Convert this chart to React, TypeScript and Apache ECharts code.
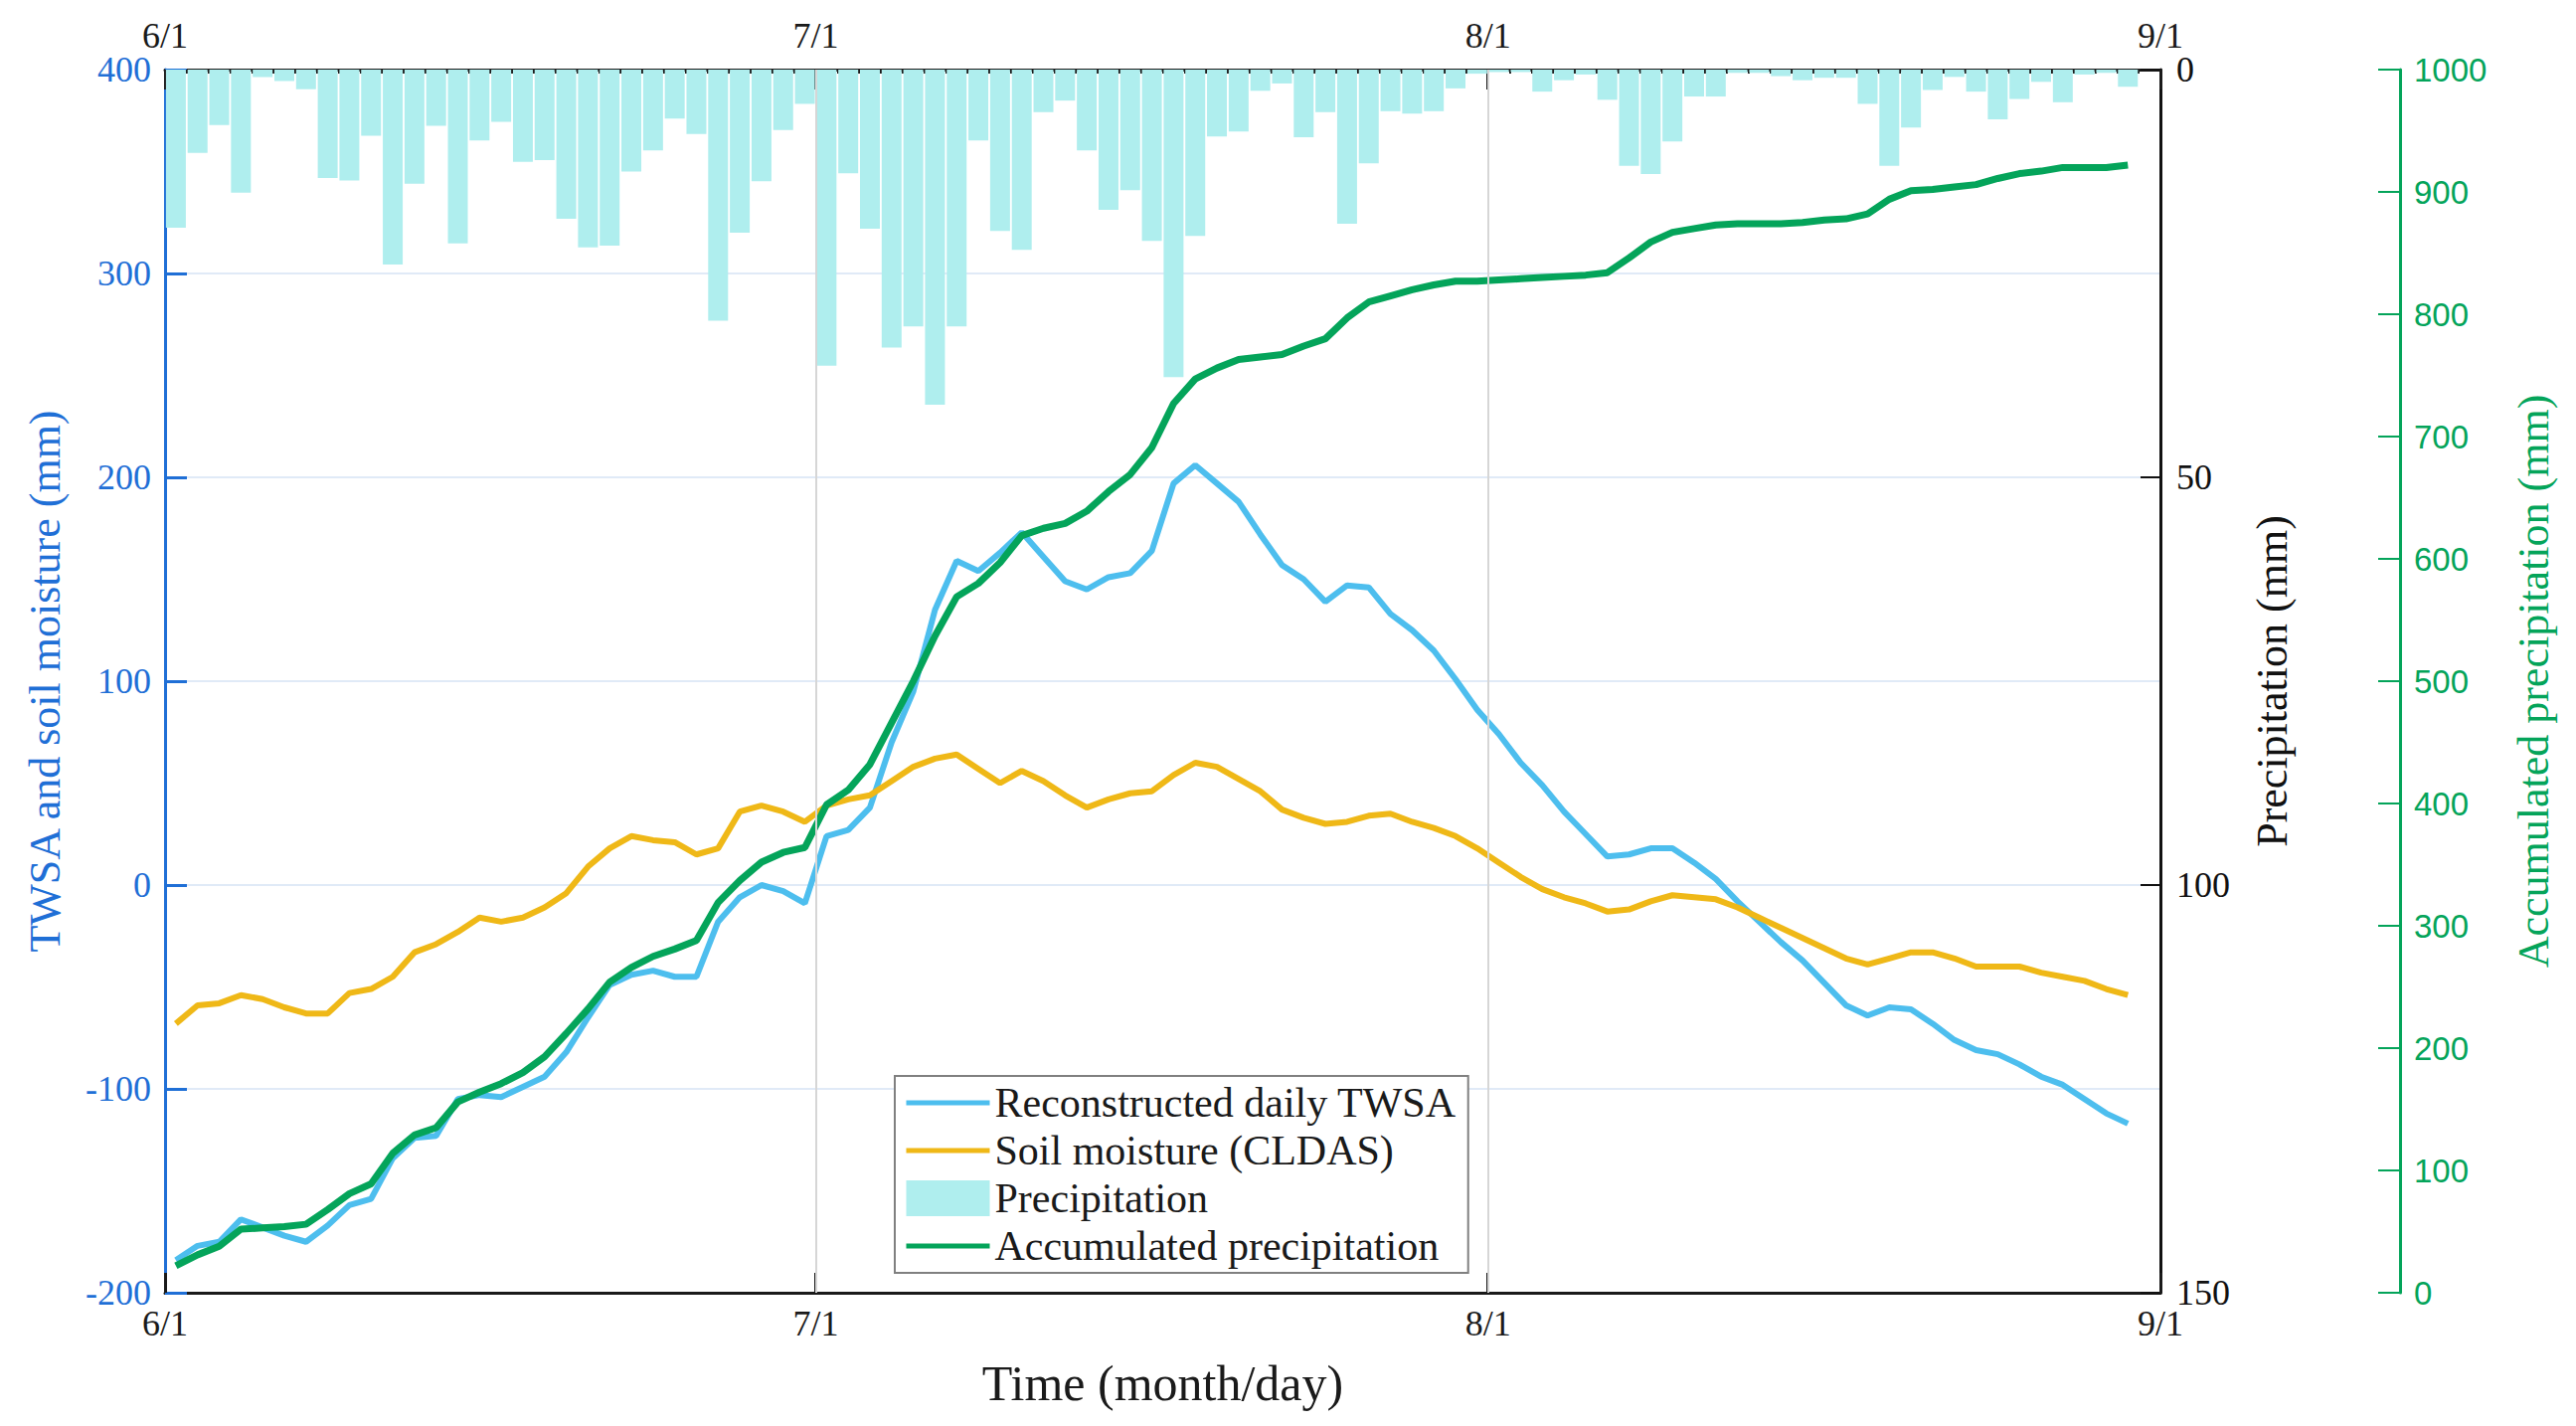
import React, { useEffect, useRef } from "react";
import * as echarts from "echarts";

// month boundaries, in days from 6/1
const monthTicks = [0, 30, 61, 92];
const monthLabels = ["6/1", "7/1", "8/1", "9/1"];

// daily precipitation (mm), 6/1 .. 8/31
const precipJun = [19.4, 10.2, 6.8, 15.1, 0.9, 1.4, 2.4, 13.3, 13.6, 8.1, 23.9, 14.0, 6.9, 21.3, 8.7, 6.4, 11.3, 11.1, 18.3, 21.8, 21.6, 12.5, 9.9, 6.0, 7.9, 30.8, 20.0, 13.7, 7.4, 4.2];
const precipJul = [36.3, 12.7, 19.5, 34.1, 31.5, 41.1, 31.5, 8.7, 19.8, 22.1, 5.2, 3.8, 9.9, 17.2, 14.8, 21.0, 37.7, 20.4, 8.2, 7.6, 2.6, 1.7, 8.3, 5.2, 18.9, 11.5, 5.1, 5.4, 5.1, 2.3, 0.5];
const precipAug = [0.3, 0.3, 2.7, 1.3, 0.6, 3.7, 11.8, 12.8, 8.8, 3.3, 3.3, 0.4, 0.4, 0.8, 1.3, 1.0, 1.0, 4.2, 11.8, 7.1, 2.5, 0.9, 2.7, 6.1, 3.6, 1.5, 4.0, 0.6, 0.4, 2.1, 0];

// reconstructed daily TWSA (mm), 6/1 .. 8/30
const twsaJun = [-184, -177, -175, -164, -168, -172, -175, -167, -157, -154, -134, -124, -123, -105, -103, -104, -99, -94, -82, -65, -49, -44, -42, -45, -45, -18, -6, 0, -3, -9];
const twsaJul = [24, 27, 38, 70, 95, 135, 159, 154, 163, 173, 161, 149, 145, 151, 153, 164, 197, 206, 197, 188, 172, 157, 150, 139, 147, 146, 133, 125, 115, 101, 86];
const twsaAug = [74, 60, 49, 36, 25, 14, 15, 18, 18, 11, 3, -8, -18, -28, -37, -48, -59, -64, -60, -61, -68, -76, -81, -83, -88, -94, -98, -105, -112, -117];

// soil moisture, CLDAS (mm)
const soilJun = [-68, -59, -58, -54, -56, -60, -63, -63, -53, -51, -45, -33, -29, -23, -16, -18, -16, -11, -4, 9, 18, 24, 22, 21, 15, 18, 36, 39, 36, 31];
const soilJul = [39, 42, 44, 51, 58, 62, 64, 57, 50, 56, 51, 44, 38, 42, 45, 46, 54, 60, 58, 52, 46, 37, 33, 30, 31, 34, 35, 31, 28, 24, 18];
const soilAug = [11, 4, -2, -6, -9, -13, -12, -8, -5, -6, -7, -11, -16, -21, -26, -31, -36, -39, -36, -33, -33, -36, -40, -40, -40, -43, -45, -47, -51, -54];

// accumulated precipitation (mm)
const accJun = [22, 31, 38, 52, 53, 54, 56, 68, 81, 89, 114, 129, 135, 156, 164, 171, 180, 193, 212, 232, 254, 266, 275, 281, 288, 319, 337, 352, 360, 364];
const accJul = [399, 411, 432, 466, 500, 537, 569, 580, 597, 619, 625, 629, 639, 655, 669, 691, 727, 747, 756, 763, 765, 767, 774, 780, 797, 810, 815, 820, 824, 827, 827];
const accAug = [828, 829, 830, 831, 832, 834, 846, 859, 867, 870, 873, 874, 874, 874, 875, 877, 878, 882, 894, 901, 902, 904, 906, 911, 915, 917, 920, 920, 920, 922];

const FONT = "Liberation Serif";
const BLUE = "#1f6fd6";
const GREEN = "#04a45a";
const INK = "#1a1a1a";
const TWSA_COLOR = "#4dbeee";
const SOIL_COLOR = "#efb817";

const TWSA_NAME = "Reconstructed daily TWSA";
const SOIL_NAME = "Soil moisture (CLDAS)";
const PRECIP_NAME = "Precipitation";
const ACC_NAME = "Accumulated precipitation";

// each day sits in the middle of its band
const toDaily = (vals: number[]) => vals.map((v, i) => [i + 0.5, v]);
const monthLabel = (v: number) => {
  const i = monthTicks.indexOf(v);
  return i >= 0 ? monthLabels[i] : "";
};

// legend entry for a line: no marker, just the stroke
const lineEntry = (name: string, color: string) => ({
  name,
  itemStyle: { opacity: 0 },
  lineStyle: { width: 5, color },
});

const App = () => {
  const chartRef = useRef<HTMLDivElement>(null);

  useEffect(() => {
    const chart = echarts.init(chartRef.current as HTMLDivElement, null, {
      renderer: "svg",
    });

    const precip = [...precipJun, ...precipJul, ...precipAug];
    const twsa = [...twsaJun, ...twsaJul, ...twsaAug];
    const soil = [...soilJun, ...soilJul, ...soilAug];
    const acc = [...accJun, ...accJul, ...accAug];

    const option = {
      animation: false,
      backgroundColor: "#fff",
      textStyle: { fontFamily: FONT },
      grid: { left: 166, right: 418, top: 70, bottom: 134 },
      legend: {
        orient: "vertical",
        left: 900,
        top: 1082,
        itemWidth: 84,
        itemHeight: 36,
        itemGap: 6,
        padding: [6, 12, 6, 9],
        borderColor: "#808080",
        borderWidth: 2,
        backgroundColor: "#fff",
        textStyle: { fontFamily: FONT, fontSize: 42, color: INK },
        data: [
          lineEntry(TWSA_NAME, TWSA_COLOR),
          lineEntry(SOIL_NAME, SOIL_COLOR),
          { name: PRECIP_NAME, icon: "rect" },
          lineEntry(ACC_NAME, GREEN),
        ],
      },
      xAxis: [
        {
          type: "value",
          min: 0,
          max: 92,
          position: "bottom",
          axisLine: { show: true, onZero: false, lineStyle: { color: INK, width: 3 } },
          axisTick: {
            show: true,
            inside: true,
            length: 20,
            customValues: monthTicks,
            lineStyle: { color: INK, width: 3 },
          },
          axisLabel: {
            customValues: monthTicks,
            formatter: monthLabel,
            fontFamily: FONT,
            fontSize: 36,
            color: INK,
            margin: 13,
          },
          splitLine: { show: false },
          name: "Time (month/day)",
          nameLocation: "middle",
          nameGap: 66,
          nameTextStyle: { fontFamily: FONT, fontSize: 50, color: INK },
        },
        {
          type: "value",
          min: 0,
          max: 92,
          interval: 1,
          position: "top",
          axisLine: { show: true, onZero: false, lineStyle: { color: INK, width: 3 } },
          axisTick: { show: true, inside: true, length: 4, lineStyle: { color: INK, width: 2 } },
          axisLabel: { show: false },
          splitLine: { show: false },
        },
        {
          type: "value",
          min: 0,
          max: 92,
          position: "top",
          axisLine: { show: false, onZero: false },
          axisTick: {
            show: true,
            inside: true,
            length: 20,
            customValues: monthTicks,
            lineStyle: { color: INK, width: 3 },
          },
          axisLabel: {
            customValues: monthTicks,
            formatter: monthLabel,
            fontFamily: FONT,
            fontSize: 36,
            color: INK,
            margin: 16,
          },
          splitLine: { show: false },
        },
      ],
      yAxis: [
        {
          type: "value",
          min: -200,
          max: 400,
          interval: 100,
          position: "left",
          axisLine: { show: true, onZero: false, lineStyle: { color: BLUE, width: 3 } },
          axisTick: { show: true, inside: true, length: 22, lineStyle: { color: BLUE, width: 3 } },
          axisLabel: { color: BLUE, fontFamily: FONT, fontSize: 36, margin: 14 },
          splitLine: { show: true, lineStyle: { color: "#e0eaf7", width: 2 } },
          name: "TWSA and soil moisture (mm)",
          nameLocation: "middle",
          nameRotate: 90,
          nameGap: 99,
          nameTextStyle: { color: BLUE, fontFamily: FONT, fontSize: 44 },
        },
        {
          type: "value",
          min: 0,
          max: 150,
          interval: 50,
          inverse: true,
          position: "right",
          axisLine: { show: true, onZero: false, lineStyle: { color: "#111", width: 3 } },
          axisTick: { show: true, inside: true, length: 20, lineStyle: { color: "#111", width: 2 } },
          axisLabel: { color: "#111", fontFamily: FONT, fontSize: 36, margin: 16 },
          splitLine: { show: false },
          name: "Precipitation (mm)",
          nameLocation: "middle",
          nameRotate: 90,
          nameGap: 90,
          nameTextStyle: { color: "#111", fontFamily: FONT, fontSize: 44 },
        },
        {
          type: "value",
          min: 0,
          max: 1000,
          interval: 100,
          position: "right",
          offset: 241,
          axisLine: { show: true, onZero: false, lineStyle: { color: GREEN, width: 3 } },
          axisTick: { show: true, inside: true, length: 22, lineStyle: { color: GREEN, width: 2 } },
          axisLabel: {
            color: GREEN,
            fontFamily: "Liberation Sans",
            fontSize: 33,
            margin: 14,
            formatter: (v: number) => String(v),
          },
          splitLine: { show: false },
          name: "Accumulated precipitation (mm)",
          nameLocation: "middle",
          nameRotate: 90,
          nameGap: 112,
          nameTextStyle: { color: GREEN, fontFamily: FONT, fontSize: 44 },
        },
      ],
      series: [
        {
          name: PRECIP_NAME,
          type: "bar",
          xAxisIndex: 0,
          yAxisIndex: 1,
          barWidth: 20,
          itemStyle: { color: "#afeeee" },
          data: toDaily(precip),
          markLine: {
            silent: true,
            symbol: "none",
            label: { show: false },
            lineStyle: { color: "#d6d6d6", width: 2, type: "solid" },
            data: monthTicks.slice(1, 3).map((d) => ({ xAxis: d })),
          },
        },
        {
          name: TWSA_NAME,
          type: "line",
          xAxisIndex: 0,
          yAxisIndex: 0,
          symbol: "none",
          color: TWSA_COLOR,
          lineStyle: { width: 6, color: TWSA_COLOR },
          data: toDaily(twsa),
        },
        {
          name: SOIL_NAME,
          type: "line",
          xAxisIndex: 0,
          yAxisIndex: 0,
          symbol: "none",
          color: SOIL_COLOR,
          lineStyle: { width: 6, color: SOIL_COLOR },
          data: toDaily(soil),
        },
        {
          name: ACC_NAME,
          type: "line",
          xAxisIndex: 0,
          yAxisIndex: 2,
          symbol: "none",
          color: GREEN,
          lineStyle: { width: 7, color: GREEN },
          data: toDaily(acc),
        },
      ],
    };

    chart.setOption(option);

    return () => {
      chart.dispose();
    };
  }, []);

  return (
    <div
      ref={chartRef}
      style={{ position: "absolute", left: 0, top: 0, width: 2591, height: 1434 }}
    />
  );
};

export default App;
